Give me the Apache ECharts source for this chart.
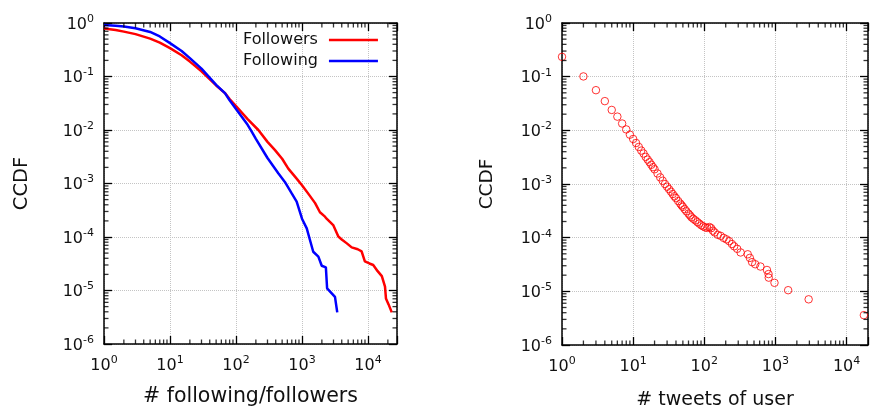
<!DOCTYPE html>
<html>
<head>
<meta charset="utf-8">
<script src="https://cdn.jsdelivr.net/npm/echarts@6/dist/echarts.min.js"></script>
<style>
  html, body { margin: 0; padding: 0; background: #fff; }
  #chart { width: 871px; height: 415px; }
</style>
</head>
<body>
<div id="chart"></div>
<script>
// left panel: CCDF of followers / following
const followersX = [1, 1.5, 2, 3, 5, 7, 10, 15, 20, 30, 50, 68, 80, 100, 150, 218, 300, 390, 500, 620,
  800, 1000, 1300, 1580, 1870, 2230, 2360, 2970, 3550, 4000, 4780, 5660, 7000, 8000, 8960, 10500,
  12000, 14000, 16200, 18100, 18700, 20500, 22900]
const followersY = [0.79, 0.74, 0.69, 0.62, 0.51, 0.43, 0.34, 0.25, 0.19, 0.125, 0.068, 0.049, 0.038,
  0.028, 0.016, 0.01, 0.006, 0.0042, 0.0029, 0.0019, 0.0013, 0.00093, 0.0006, 0.00043, 0.00029,
  0.00024, 0.00022, 0.000167, 0.000102, 0.00009, 0.000076, 0.000064, 0.000059, 0.000054, 0.000035,
  0.000032, 0.00003, 0.000023, 0.0000186, 0.0000118, 0.0000071, 0.0000055, 0.0000039]

const followingX = [1, 1.5, 2, 3, 5, 7, 10, 15, 20, 30, 50, 68, 80, 102, 150, 173, 200, 274, 300, 437,
  550, 695, 830, 1000, 1180, 1320, 1480, 1770, 1990, 2300, 2400, 3160, 3420]
const followingY = [0.92, 0.89, 0.86, 0.8, 0.68, 0.56, 0.42, 0.3, 0.22, 0.14, 0.07, 0.049, 0.036, 0.024,
  0.0125, 0.0093, 0.0068, 0.0036, 0.003, 0.00155, 0.00107, 0.00066, 0.00046, 0.00022, 0.000145,
  0.000088, 0.000053, 0.000043, 0.000029, 0.000027, 0.000011, 0.0000076, 0.0000039]

// right panel: CCDF of tweets per user
const tweetsX = [1, 2, 3, 4, 5, 6, 7, 8, 9, 10, 11, 12, 13, 14, 15, 16, 17, 18, 19, 20, 22, 24, 26, 28,
  30, 32, 34, 36, 38, 40, 43, 46, 48, 50, 53, 56, 60, 63, 66, 70, 75, 80, 85, 91, 97, 103, 110, 118,
  125, 132, 140, 155, 170, 187, 205, 224, 245, 263, 290, 324, 408, 437, 470, 520, 615, 760, 800, 805,
  970, 1510, 2930, 17500]
const tweetsY = [0.234, 0.101, 0.056, 0.035, 0.024, 0.018, 0.0134, 0.0104, 0.0083, 0.0069, 0.0058,
  0.0049, 0.0042, 0.0037, 0.0032, 0.00285, 0.00255, 0.00228, 0.00206, 0.00188, 0.00157, 0.00133,
  0.00115, 0.001, 0.00089, 0.0008, 0.00072, 0.00065, 0.00059, 0.000545, 0.00048, 0.00043, 0.0004,
  0.000375, 0.00034, 0.00031, 0.00028, 0.00026, 0.00024, 0.000225, 0.00021, 0.000195, 0.000183,
  0.00017, 0.000162, 0.000155, 0.000152, 0.000158, 0.00015, 0.000135, 0.000125, 0.000113, 0.000108,
  0.000099, 0.000093, 0.000086, 0.000076, 0.000069, 0.000062, 0.000053, 0.000049, 0.000042, 0.000035,
  0.000032, 0.000029, 0.000025, 0.000021, 0.000018, 0.0000144, 0.0000105, 0.0000071, 0.0000036]

const minorMult = [2, 3, 4, 5, 6, 7, 8, 9]
const FONT = 'DejaVu Sans'

function zip(xs, ys) { return xs.map((x, i) => [x, ys[i]]) }

// minor tick values between min and max (gnuplot style 2..9 x 10^k)
function minorTicks(min, max) {
  const out = []
  for (let k = Math.floor(Math.log10(min)); k <= Math.ceil(Math.log10(max)); k++) {
    minorMult.forEach(m => {
      const v = m * Math.pow(10, k)
      if (v > min * 1.001 && v < max * 0.999) out.push(v)
    })
  }
  return out
}

function powLabel(v) {
  const e = Math.log10(v)
  const r = Math.round(e)
  if (Math.abs(e - r) > 1e-6) return ''
  return '{b|10}{s|' + r + '}'
}

const labelRich = {
  b: { fontSize: 16, fontFamily: FONT, color: '#111', lineHeight: 19, verticalAlign: 'bottom' },
  s: { fontSize: 11, fontFamily: FONT, color: '#111', lineHeight: 12, verticalAlign: 'top' }
}

function mainAxis(gridIndex, pos, min, max, name, nameGap, nameSize) {
  const vertical = pos === 'left'
  return {
    type: 'log', logBase: 10, gridIndex: gridIndex, position: pos,
    min: min, max: max, splitNumber: vertical ? 6 : 5,
    name: name, nameLocation: 'middle', nameGap: nameGap, nameRotate: vertical ? 90 : 0,
    nameTextStyle: { fontSize: nameSize, fontFamily: FONT, color: '#111' },
    axisLine: { show: true, lineStyle: { color: '#000', width: 1.5 } },
    axisTick: { show: true, inside: true, length: 8, lineStyle: { color: '#000', width: 1.3 } },
    axisLabel: { formatter: powLabel, rich: labelRich, margin: vertical ? 10 : 11 },
    splitLine: { show: true, lineStyle: { type: 'dotted', color: '#c4c4c4', width: 1 } }
  }
}

function mirrorAxis(gridIndex, pos, min, max) {
  return {
    type: 'log', logBase: 10, gridIndex: gridIndex, position: pos,
    min: min, max: max, splitNumber: (pos === 'right') ? 6 : 5,
    axisLine: { show: true, lineStyle: { color: '#000', width: 1.5 } },
    axisTick: { show: true, inside: true, length: 8, lineStyle: { color: '#000', width: 1.3 } },
    axisLabel: { show: false },
    splitLine: { show: false }
  }
}

// short inward minor ticks on one side of a panel, drawn as thin rect symbols
function minorTickMarks(axisIdx, side, values, edge) {
  const L = 4.5
  const horiz = side === 'bottom' || side === 'top'
  const offs = { bottom: [0, -L / 2], top: [0, L / 2], left: [L / 2, 0], right: [-L / 2, 0] }
  return {
    type: 'scatter', xAxisIndex: axisIdx, yAxisIndex: axisIdx, silent: true, clip: false, z: 5,
    data: values.map(v => horiz ? [v, edge] : [edge, v]),
    symbol: 'rect', symbolSize: horiz ? [1.3, L] : [L, 1.3], symbolOffset: offs[side],
    itemStyle: { color: '#000' }
  }
}

const chart = echarts.init(document.getElementById('chart'))

const leftX = [1, 27500], rightX = [1, 20000], yRange = [1e-6, 1]
const leftXMinor = minorTicks(leftX[0], leftX[1])
const rightXMinor = minorTicks(rightX[0], rightX[1])
const yMinor = minorTicks(yRange[0], yRange[1])

const option = {
  animation: false,
  grid: [
    { left: 104, top: 23, width: 293, height: 321 },
    { left: 562, top: 23, width: 311, height: 330 }
  ],
  legend: {
    data: ['Followers', 'Following'],
    orient: 'vertical', left: 243, top: 32, align: 'right',
    icon: 'rect', itemWidth: 49, itemHeight: 2.5, itemGap: 5, padding: 0,
    textStyle: { fontSize: 16, fontFamily: FONT, color: '#111', padding: [0, 6, 0, 0] }
  },
  xAxis: [
    mainAxis(0, 'bottom', leftX[0], leftX[1], '# following/followers', 42, 20.5),
    mirrorAxis(0, 'top', leftX[0], leftX[1]),
    mainAxis(1, 'bottom', rightX[0], rightX[1], '# tweets of user', 46, 19),
    mirrorAxis(1, 'top', rightX[0], rightX[1])
  ],
  yAxis: [
    mainAxis(0, 'left', yRange[0], yRange[1], 'CCDF', 72, 19.5),
    mirrorAxis(0, 'right', yRange[0], yRange[1]),
    mainAxis(1, 'left', yRange[0], yRange[1], 'CCDF', 65, 18.5),
    mirrorAxis(1, 'right', yRange[0], yRange[1])
  ],
  series: [
    {
      name: 'Followers', type: 'line', xAxisIndex: 0, yAxisIndex: 0,
      data: zip(followersX, followersY), symbol: 'none',
      lineStyle: { color: '#ff0000', width: 2.5 }, itemStyle: { color: '#ff0000' }, z: 3
    },
    {
      name: 'Following', type: 'line', xAxisIndex: 0, yAxisIndex: 0,
      data: zip(followingX, followingY), symbol: 'none',
      lineStyle: { color: '#0000ff', width: 2.5 }, itemStyle: { color: '#0000ff' }, z: 4
    },
    {
      name: 'Tweets', type: 'scatter', xAxisIndex: 2, yAxisIndex: 2,
      data: zip(tweetsX, tweetsY), symbol: 'circle', symbolSize: 7.5,
      itemStyle: { color: 'rgba(0,0,0,0)', borderColor: '#ff0000', borderWidth: 1 }
    },
    minorTickMarks(0, 'bottom', leftXMinor, yRange[0]),
    minorTickMarks(0, 'top', leftXMinor, yRange[1]),
    minorTickMarks(0, 'left', yMinor, leftX[0]),
    minorTickMarks(0, 'right', yMinor, leftX[1]),
    minorTickMarks(2, 'bottom', rightXMinor, yRange[0]),
    minorTickMarks(2, 'top', rightXMinor, yRange[1]),
    minorTickMarks(2, 'left', yMinor, rightX[0]),
    minorTickMarks(2, 'right', yMinor, rightX[1])
  ]
}

chart.setOption(option)
</script>
</body>
</html>
